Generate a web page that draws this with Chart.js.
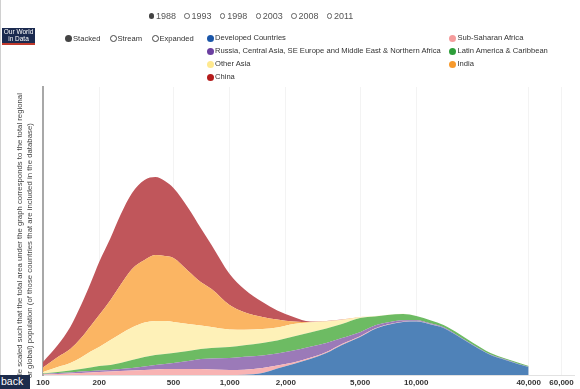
<!DOCTYPE html>
<html><head><meta charset="utf-8">
<script src="https://cdn.jsdelivr.net/npm/chart.js@4.4.0/dist/chart.umd.min.js"></script>
<style>
html,body{margin:0;padding:0;background:#fff;}
body{width:580px;height:389px;position:relative;overflow:hidden;font-family:"Liberation Sans",Arial,sans-serif;}
#c{position:absolute;left:0;top:0;}
.abs{position:absolute;white-space:nowrap;}
.dot{position:absolute;border-radius:50%;box-sizing:border-box;}
.txt{position:absolute;white-space:nowrap;color:#333;font-size:7.6px;line-height:10px;}
.yl{position:absolute;white-space:nowrap;color:#444;line-height:10px;transform-origin:0 0;transform:rotate(-90deg);}
</style></head>
<body>
<canvas id="c" width="580" height="389"></canvas>
<div id="overlay"></div>
<script>
// ---------- data ----------
const YEARS = ['1988','1993','1998','2003','2008','2011'];
const SELECTED_YEAR = '1988';
const MODES = ['Stacked','Stream','Expanded'];
const SELECTED_MODE = 'Stacked';
const X_TICKS = [100,200,500,1000,2000,5000,10000,40000,60000];
const Y_LABEL_LINES = [
  'le scaled such that the total area under the graph corresponds to the total regional',
  'or global) population (of those countries that are included in the database)'
];
const INCOME = [100,120,140,160,180,200,230,260,300,350,400,450,500,600,700,800,1000,1200,1500,1800,2200,2700,3300,4000,5000,6000,7000,8500,10000,12000,14000,17000,20000,25000,30000,35000,40000];

const SERIES_NAMES = ['Developed Countries','Sub-Saharan Africa','Russia, Central Asia, SE Europe and Middle East & Northern Africa','Latin America & Caribbean','Other Asia','India','China'];
const LEGEND_COLORS = ['#1a56a8','#f59c9c','#6b3fa0','#2e9e3a','#ffe98f','#f89a2c','#b41c1c'];
const FILL_COLORS   = ['#4f82b8','#f8b3b3','#9b7ab8','#6dbb63','#fef1b8','#fbb563','#c0565b'];

const DEVELOPED = [0,0,0,0,0,0,0,0,0,0,0,0,0,0,0,0,0,0.3,2,6.5,11,16,22,30,38,46,50,53,53.5,50.5,47,38,30,20,15,11,8];
const SUB_SAHARAN = [0.5,1,1.5,2,2.5,3,3.5,4,4.5,5,5.5,6,6,6,6,5.5,5,5,5,3,1.5,1.2,1,1,0.8,0.5,0.4,0.3,0.2,0.2,0.1,0.1,0.1,0.1,0.1,0.1,0.1];
const RUSSIA_MENA = [0.5,1,1,1.5,1.5,1.5,1.5,2,2.5,3.5,4.5,5,6,8,10,11,12,13,12.5,12,12,11,9,6,4,3,2,1.5,1,0.8,0.6,0.5,0.4,0.3,0.3,0.2,0.2];
const LATIN_AMERICA = [0.5,1,2,2.5,3.5,4.5,5,6,8,9.5,10,10,10,10,10,10.5,11,11.5,12.5,13,14,14.3,14.5,14,14.2,9,7.6,6.2,4.3,3,2.3,2.4,2,1.6,1.1,1.2,0.8];
const OTHER_ASIA = [1.5,5,7.5,11.5,16,19,25,29,32.5,34.5,34,33,31,27,23.5,21,17.5,15.5,14,13,12.5,10,7,4,0.8,0.4,0.3,0.2,0.1,0.1,0.1,0.05,0.05,0.05,0.05,0.05,0.05];
const INDIA = [4.5,10,14,19.5,25.5,32,40,49,58.5,62.5,66,65,64,53,43.5,38,24.5,17.5,12,8,2.5,0.4,0.3,0.2,0.1,0.05,0,0,0,0,0,0,0,0,0,0,0];
const CHINA = [5.5,12,22,33,43,53,62,70,76,80,78,75,70,63,54,44,31,23,15,9,4.5,0.6,0.3,0.2,0.1,0.05,0,0,0,0,0,0,0,0,0,0,0];
const SERIES_VALUES = [DEVELOPED, SUB_SAHARAN, RUSSIA_MENA, LATIN_AMERICA, OTHER_ASIA, INDIA, CHINA];

const X_MIN = 100, X_MAX = 70000, Y_MAX = 288;

// ---------- overlay (HTML text) ----------
const ov = document.getElementById('overlay');
function add(html){ const d=document.createElement('div'); d.innerHTML=html; const e=d.firstChild; ov.appendChild(e); return e; }

// left border
add('<div class="abs" style="left:0;top:0;width:1px;height:389px;background:#d0d0d0"></div>');

// years
YEARS.forEach((y,i)=>{
  const cx = 151.5 + i*35.6;
  const sel = y===SELECTED_YEAR;
  add(`<div class="dot" style="left:${cx-2.8}px;top:${13.2}px;width:5.6px;height:5.6px;${sel?'background:#444;':'border:1px solid #666;'}"></div>`);
  add(`<div class="txt" style="left:${cx+4.5}px;top:10.5px;font-size:9px;line-height:11px;color:#555">${y}</div>`);
});

// logo
add('<div class="abs" style="left:2px;top:28px;width:33px;height:14px;background:#1b2a4f;border-bottom:2px solid #c0392b;color:#fff;font-size:6.5px;line-height:6.5px;text-align:center;padding-top:1px;box-sizing:content-box">Our World<br>in Data</div>');

// modes
const MODE_X = [68.5, 113, 155];
MODES.forEach((m,i)=>{
  const cx = MODE_X[i];
  const sel = m===SELECTED_MODE;
  add(`<div class="dot" style="left:${cx-3.5}px;top:35.2px;width:7px;height:7px;${sel?'background:#444;':'border:1.2px solid #444;'}"></div>`);
  add(`<div class="txt" style="left:${cx+4.5}px;top:33.5px">${m}</div>`);
});

// series legend (2 columns)
SERIES_NAMES.forEach((n,i)=>{
  const col = i%2, row = Math.floor(i/2);
  const cx = col===0 ? 210 : 452.5;
  const cy = 38.7 + row*12.8;
  add(`<div class="dot" style="left:${cx-3.5}px;top:${cy-3.5}px;width:7px;height:7px;background:${LEGEND_COLORS[i]}"></div>`);
  add(`<div class="txt" style="left:${cx+5}px;top:${cy-5.3}px">${n}</div>`);
});

// y axis title (rotated)
const YL_POS = [{left:15,bottom:375,len:282},{left:25,bottom:378,len:255}];
const mctx = document.createElement('canvas').getContext('2d');
Y_LABEL_LINES.forEach((t,i)=>{
  mctx.font = '10px "Liberation Sans", Arial, sans-serif';
  const w10 = mctx.measureText(t).width;
  const fs = 10*YL_POS[i].len/w10;
  add(`<div class="yl" style="left:${YL_POS[i].left}px;top:${YL_POS[i].bottom}px;font-size:${fs.toFixed(2)}px">${t}</div>`);
});

// back button
add('<div class="abs" style="left:0;top:375px;width:30px;height:14px;background:#1c2b4b;color:#fff;font-size:10.5px;line-height:13px;padding-left:1px;box-sizing:border-box">back</div>');

// ---------- chart ----------
const datasets = SERIES_NAMES.map((n,i)=>({
  label: n,
  data: INCOME.map((x,j)=>({x:x, y:SERIES_VALUES[i][j]})),
  backgroundColor: FILL_COLORS[i],
  borderColor: FILL_COLORS[i],
  borderWidth: 0,
  pointRadius: 0,
  fill: i===0 ? 'origin' : '-1',
  cubicInterpolationMode: 'monotone'
}));

new Chart(document.getElementById('c'), {
  type: 'line',
  data: { datasets },
  options: {
    responsive: false,
    animation: false,
    devicePixelRatio: 1,
    layout: { padding: { left: 43, right: 6, top: 87, bottom: 0 } },
    plugins: { legend: { display: false }, tooltip: { enabled: false } },
    elements: { line: { borderWidth: 0 } },
    scales: {
      x: {
        type: 'logarithmic',
        min: X_MIN, max: X_MAX,
        afterBuildTicks: s => { s.ticks = X_TICKS.map(v=>({value:v})); },
        afterFit: s => { s.height = 14; },
        ticks: {
          autoSkip: false, maxRotation: 0, padding: 3,
          color: '#333',
          font: { family: '"Liberation Sans", Arial, sans-serif', size: 8, weight: 'bold' },
          callback: v => Number(v).toLocaleString('en-US')
        },
        grid: { color: '#f3f3f3', drawTicks: false },
        border: { display: true, color: '#e2e2e2' }
      },
      y: {
        stacked: true,
        min: 0, max: Y_MAX,
        afterFit: s => { s.width = 0; },
        ticks: { display: false },
        grid: { display: false, drawTicks: false },
        border: { display: true, color: '#a8a8a8', width: 2 }
      }
    }
  }
});
</script>
</body></html>
